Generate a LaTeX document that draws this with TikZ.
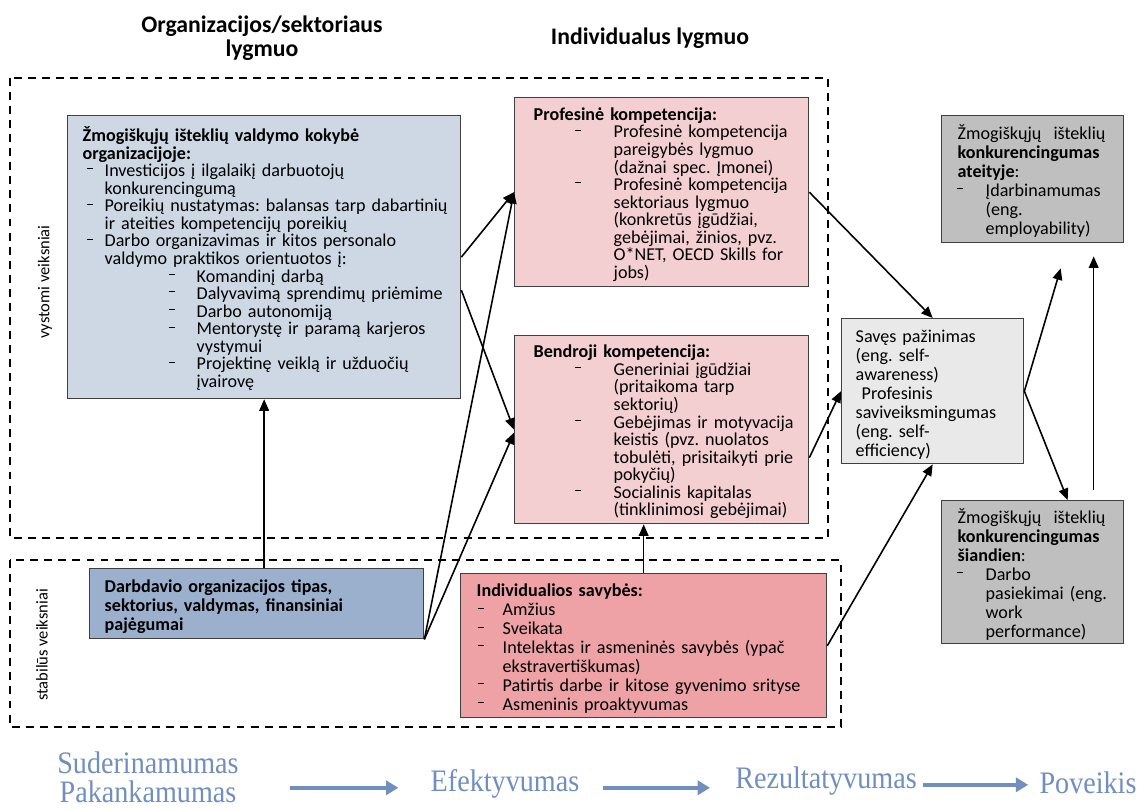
\documentclass[tikz,border=0pt]{standalone}
\usepackage{fontspec}
\setmainfont{Carlito}
\newfontfamily\lowfont[FakeStretch=0.9]{Liberation Serif}
\usetikzlibrary{arrows.meta}

\definecolor{hrblue}{RGB}{206,216,229}
\definecolor{empblue}{RGB}{154,176,205}
\definecolor{pinklt}{RGB}{244,207,209}
\definecolor{pinkdk}{RGB}{238,162,166}
\definecolor{graydk}{RGB}{191,191,191}
\definecolor{graylt}{RGB}{233,233,233}
\definecolor{flowblue}{RGB}{112,142,190}

\frenchspacing
\hyphenpenalty=10000
\exhyphenpenalty=10000

% list dash, plain line and item
\newcommand{\dm}{\raisebox{0.85ex}{\rule{3.4pt}{0.5pt}}}
\newcommand{\pad}[1]{\par\leftskip=#1\noindent}
\newcommand{\itm}[2]{\par\leftskip=#1\noindent\llap{\dm\hspace{#2}}}

\tikzset{
  box/.style={draw=black!75, line width=0.8pt, anchor=north west,
    inner xsep=0.08cm, inner ysep=0pt, align=left},
  tight/.style={font=\fontsize{10.3}{10}\selectfont},
  loose/.style={font=\fontsize{10.3}{10.8}\selectfont},
  zone/.style={line width=0.9pt, dash pattern=on 4.5pt off 3.5pt},
  arr/.style={line width=0.9pt, -{Triangle[length=6.5pt,width=5.5pt]}},
  head/.style={font=\bfseries\fontsize{13.5}{14}\selectfont, align=center},
  side/.style={rotate=90, font=\fontsize{9.4}{10}\selectfont},
  flow/.style={text=flowblue, inner sep=0pt, font=\lowfont\fontsize{17.8}{16.6}\selectfont},
  flowarr/.style={flowblue, line width=2.3pt, -{Triangle[length=7pt,width=8pt]}}
}

\begin{document}
\begin{tikzpicture}[x=0.02cm, y=-0.02cm]
\useasboundingbox (0,0) rectangle (1137,810);

\node[head] (orglvl) at (262,38) {Organizacijos/sektoriaus\\lygmuo};
\node[head] (indlvl) at (650,38) {Individualus lygmuo};

\draw[zone] (10,78) rectangle (828,538);
\draw[zone] (10,560) rectangle (841,727);
\node[side] (dev) at (45,282) {vystomi veiksniai};
\node[side] (stab) at (42,645) {stabilūs veiksniai};

\node[box, tight, fill=hrblue, text width=7.7cm, minimum height=5.66cm] (hrm) at (67,115) {%
{\bfseries\pad{0.22cm}Žmogiškųjų išteklių valdymo kokybė\\ organizacijoje:\par}
\itm{0.66cm}{0.24cm}Investicijos į ilgalaikį darbuotojų\\ konkurencingumą
\itm{0.66cm}{0.24cm}Poreikių nustatymas: balansas tarp dabartinių\\ ir ateities kompetencijų poreikių
\itm{0.66cm}{0.24cm}Darbo organizavimas ir kitos personalo\\ valdymo praktikos orientuotos į:
\itm{2.5cm}{0.44cm}Komandinį darbą
\itm{2.5cm}{0.44cm}Dalyvavimą sprendimų priėmime
\itm{2.5cm}{0.44cm}Darbo autonomiją
\itm{2.5cm}{0.44cm}Mentorystę ir paramą karjeros\\ vystymui
\itm{2.5cm}{0.44cm}Projektinę veiklą ir užduočių\\ įvairovę\par};

\node[box, tight, fill=pinklt, text width=5.72cm, minimum height=3.78cm] (prof) at (514,97) {%
{\bfseries\pad{0.3cm}Profesinė kompetencija:\par}
\itm{1.9cm}{0.66cm}Profesinė kompetencija\\ pareigybės lygmuo\\ (dažnai spec. Įmonei)
\itm{1.9cm}{0.66cm}Profesinė kompetencija\\ sektoriaus lygmuo\\ (konkretūs įgūdžiai,\\ gebėjimai, žinios, pvz.\\ O*NET, OECD Skills for\\ jobs)\par};

\node[box, tight, fill=pinklt, text width=5.72cm, minimum height=3.76cm] (gen) at (514,335) {%
{\bfseries\pad{0.3cm}Bendroji kompetencija:\par}
\itm{1.9cm}{0.66cm}Generiniai įgūdžiai\\ (pritaikoma tarp\\ sektorių)
\itm{1.9cm}{0.66cm}Gebėjimas ir motyvacija\\ keistis (pvz. nuolatos\\ tobulėti, prisitaikyti prie\\ pokyčių)
\itm{1.9cm}{0.66cm}Socialinis kapitalas\\ (tinklinimosi gebėjimai)\par};

\node[box, loose, fill=empblue, text width=6.52cm, minimum height=1.4cm] (emp) at (89,568) {%
{\bfseries\pad{0.22cm}Darbdavio organizacijos tipas,\\ sektorius, valdymas, finansiniai\\ pajėgumai\par}};

\node[box, loose, fill=pinkdk, text width=7.16cm, minimum height=2.88cm] (indiv) at (460,573) {%
{\bfseries\pad{0.24cm}Individualios savybės:\par}
\itm{0.76cm}{0.38cm}Amžius
\itm{0.76cm}{0.38cm}Sveikata
\itm{0.76cm}{0.38cm}Intelektas ir asmeninės savybės (ypač\\ ekstravertiškumas)
\itm{0.76cm}{0.38cm}Patirtis darbe ir kitose gyvenimo srityse
\itm{0.76cm}{0.38cm}Asmeninis proaktyvumas\par};

\node[box, loose, fill=graylt, text width=3.48cm, minimum height=2.9cm] (aware) at (841,318) {%
\pad{0.2cm}Savęs pažinimas\\ (eng. self-\\ awareness)\\ \ Profesinis\\ saviveiksmingumas\\ (eng. self-\\ efficiency)\par};

\node[box, loose, fill=graydk, text width=3.48cm, minimum height=2.54cm] (future) at (941,115) {%
\pad{0.24cm}Žmogiškųjų~~išteklių\\ \textbf{konkurencingumas}\\ \textbf{ateityje}:
\itm{0.8cm}{0.46cm}Įdarbinamumas\\ (eng.\\ employability)\par};

\node[box, loose, fill=graydk, text width=3.48cm, minimum height=2.86cm] (today) at (941,500) {%
\pad{0.24cm}Žmogiškųjų~~išteklių\\ \textbf{konkurencingumas}\\ \textbf{šiandien}:
\itm{0.8cm}{0.46cm}Darbo\\ pasiekimai (eng.\\ work\\ performance)\par};

% connectors
\draw[arr] (emp.north -| hrm.south) -- (hrm.south);
\draw[arr] (hrm.east) -- (prof.west);
\draw[arr] ([yshift=-0.66cm]hrm.east) -- (gen.west);
\draw[arr] (emp.south east) -- (prof.west);
\draw[arr] (emp.south east) -- ([yshift=-0.06cm]gen.west);
\draw[arr] (indiv.north) -- (indiv.north |- gen.south);
\draw[arr] (prof.east) -- (aware.north);
\draw[arr] ([yshift=-0.56cm]gen.east) -- (aware.west);
\draw[arr] (indiv.east) -- (aware.south);
\draw[arr] (aware.east) -- ([xshift=0.56cm,yshift=-0.5cm]future.south);
\draw[arr] (aware.east) -- ([xshift=0.7cm]today.north);
\draw[arr] ([xshift=1.22cm,yshift=0.2cm]today.north) -- ([xshift=1.22cm,yshift=-0.26cm]future.south);

% bottom row
\node[flow, align=center] (suit) at (148,777) {Suderinamumas\\Pakankamumas};
\node[flow, anchor=base] (eff) at (505,792) {Efektyvumas};
\node[flow, anchor=base] (res) at (826,789) {Rezultatyvumas};
\node[flow, anchor=base] (imp) at (1088,794) {Poveikis};
\draw[flowarr, shorten <=1.02cm, shorten >=0.64cm] (suit.east |- eff.mid) -- (eff.mid west);
\draw[flowarr, shorten <=0.46cm, shorten >=0.5cm] (eff.mid east) -- (res.mid west |- eff.mid east);
\draw[flowarr, shorten <=0.12cm, shorten >=0.22cm] (res.mid east) -- (imp.mid west |- res.mid east);
\end{tikzpicture}
\end{document}
